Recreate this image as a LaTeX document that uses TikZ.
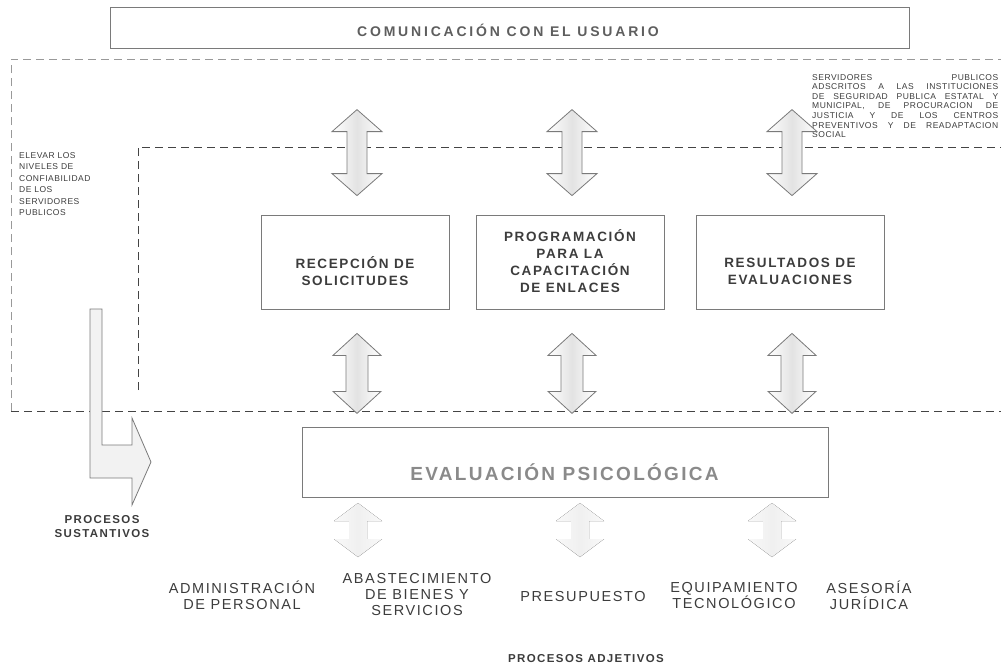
\documentclass[tikz,border=0pt]{standalone}
\usepackage{fontspec}
\setmainfont{Liberation Sans}
\newfontfamily\spaced[LetterSpace=12]{Liberation Sans}
\newfontfamily\spacedwide[LetterSpace=20]{Liberation Sans}
\newfontfamily\spacedlabel[LetterSpace=11]{Liberation Sans}
\newfontfamily\spacednote[LetterSpace=6]{Liberation Sans}
\usetikzlibrary{calc}

\definecolor{linegray}{HTML}{7A7A7A}
\definecolor{dashgray}{HTML}{444444}
\definecolor{textgray}{HTML}{3C3C3C}
\definecolor{titlegray}{HTML}{5E5E5E}
\definecolor{evalgray}{HTML}{8A8A8A}

\begin{document}
\begin{tikzpicture}[x=1pt, y=-1pt,
  region/.style={draw=dashgray, line width=1pt, dash pattern=on 8pt off 5pt},
  box/.style={draw=linegray, line width=0.8pt, inner sep=0pt},
  boxtext/.style={font=\spaced\bfseries\fontsize{13.5}{17}\selectfont, text=textgray, align=center},
  label/.style={font=\spacedlabel\fontsize{14.5}{16}\selectfont, text=textgray, align=center},
  small/.style={font=\spacednote\fontsize{8.5}{9.6}\selectfont, text=textgray, inner sep=0pt},
  process/.style={font=\spaced\bfseries\fontsize{11.5}{14}\selectfont, text=textgray, align=center},
  blockarrow/.style={draw=linegray, line width=0.8pt, left color=white, right color=white, middle color=gray!22},
  faintarrow/.style={left color=gray!5, right color=gray!5, middle color=gray!12}
]
\useasboundingbox (0,0) rectangle (1001,664);

% Dashed regions
\draw[region, draw=gray!80] (11,411) -- (11,59) -- (1001,59);
\draw[region] (11,411) -- (1001,411);
\draw[region] (138,390) -- (138,147) -- (1001,147);

% Top box
\node[box, minimum width=799pt, minimum height=41pt] (user) at (509.5,27.5) {};
\node[anchor=base, font=\spacedwide\bfseries\fontsize{14}{16}\selectfont, text=titlegray] (usert) at (508,36) {COMUNICACIÓN CON EL USUARIO};

% Side notes
\node[small, anchor=north west, align=left, font=\spacednote\fontsize{8.5}{11.5}\selectfont] (goal) at (19,152)
  {ELEVAR LOS\\NIVELES DE\\CONFIABILIDAD\\DE LOS\\SERVIDORES\\PUBLICOS};
\node[small, anchor=north west, text width=186pt, align=justify] (scope) at (812,74)
  {SERVIDORES PUBLICOS\linebreak ADSCRITOS A LAS INSTITUCIONES\linebreak DE SEGURIDAD PUBLICA ESTATAL Y\linebreak MUNICIPAL, DE PROCURACION DE\linebreak JUSTICIA Y DE LOS CENTROS\linebreak PREVENTIVOS Y DE READAPTACION\linebreak SOCIAL};

% Middle boxes
\node[box, minimum width=188pt, minimum height=94pt] (recep) at (355,262) {};
\node[box, minimum width=188pt, minimum height=94pt] (prog) at (570,262) {};
\node[box, minimum width=188pt, minimum height=94pt] (resul) at (790,262) {};
\node[boxtext] (rect) at ($(recep.center)+(0,9)$) {RECEPCIÓN DE\\SOLICITUDES};
\node[boxtext] (progt) at ($(prog.center)+(0,-1)$) {PROGRAMACIÓN\\PARA LA\\CAPACITACIÓN\\DE ENLACES};
\node[boxtext] (resut) at ($(resul.center)+(0,9)$) {RESULTADOS DE\\EVALUACIONES};

% Double arrows above and below the boxes
\foreach \b in {recep, prog, resul} {
  \draw[blockarrow] ($(\b.north)+(2,-105)$) -- ++(25,22) -- ++(-15,0) -- ++(0,42) -- ++(15,0)
    -- ++(-25,22) -- ++(-25,-22) -- ++(15,0) -- ++(0,-42) -- ++(-15,0) -- cycle;
  \draw[blockarrow] ($(\b.south)+(2,24)$) -- ++(24,22) -- ++(-13,0) -- ++(0,36) -- ++(13,0)
    -- ++(-24,22) -- ++(-24,-22) -- ++(13,0) -- ++(0,-36) -- ++(-13,0) -- cycle;
}

% Evaluation box
\node[box, minimum width=526pt, minimum height=70pt] (eval) at (565,462) {};
\node[anchor=base, font=\spaced\bfseries\fontsize{19}{21}\selectfont, text=evalgray] (evalt) at (564.5,480) {EVALUACIÓN PSICOLÓGICA};

% Bent arrow
\draw[draw=linegray, line width=0.8pt, fill=gray!10] (90,309) -- (90,478) -- (132,478) -- (132,505)
  -- (151,462) -- (132,418) -- (132,445) -- (102,445) -- (102,309) -- cycle;
\node[process] (sust) at (102,526.5) {PROCESOS\\SUSTANTIVOS};

% Faint arrows under the evaluation box
\foreach \x in {358, 580, 772} {
  \fill[faintarrow] (\x,503) -- ++(24,18) -- ++(-15,0) -- ++(0,18) -- ++(15,0)
    -- ++(-24,18) -- ++(-24,-18) -- ++(15,0) -- ++(0,-18) -- ++(-15,0) -- cycle;
}

% Support areas
\node[label] (admin) at (242,595) {ADMINISTRACIÓN\\DE PERSONAL};
\node[label] (abast) at (417,594) {ABASTECIMIENTO\\DE BIENES Y\\SERVICIOS};
\node[label, anchor=base] (presu) at (583,601) {PRESUPUESTO};
\node[label] (equip) at (734,595) {EQUIPAMIENTO\\TECNOLÓGICO};
\node[label] (aseso) at (869,595) {ASESORÍA\\JURÍDICA};
\node[process, anchor=base] (adjet) at (586,662) {PROCESOS ADJETIVOS};

\end{tikzpicture}
\end{document}
